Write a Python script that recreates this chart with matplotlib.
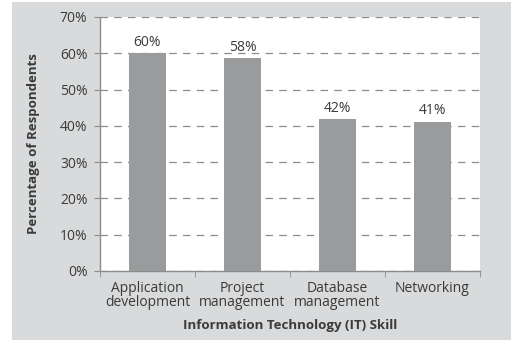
import matplotlib.pyplot as plt
from matplotlib.patches import Rectangle

skills = ['Application\ndevelopment', 'Project\nmanagement', 'Database\nmanagement', 'Networking']
percent = [60, 58.6, 41.8, 41.2]
bar_labels = ['60%', '58%', '42%', '41%']
yticks = [0, 10, 20, 30, 40, 50, 60, 70]

plt.rcParams['font.family'] = ['Open Sans', 'DejaVu Sans']
txt = '#3a3a3a'

fig = plt.figure(figsize=(5.18, 3.44), dpi=100, facecolor='white')
W, H = 518, 344

# grey panel behind the chart
fig.patches.append(Rectangle((12 / W, 4 / H), 499 / W, 338 / H, transform=fig.transFigure,
                             facecolor='#d9dadb', edgecolor='none', zorder=-10))

ax = fig.add_axes([100 / W, 1 - 271 / H, 380 / W, 254 / H])
ax.set_zorder(5)
ax.set_facecolor('white')

x = range(len(skills))
ax.bar(x, percent, width=0.39, color='#9a9b9c', zorder=3)
for i, lab in enumerate(bar_labels):
    ax.text(i, percent[i] + 1.0, lab, ha='center', va='bottom', fontsize=10, color=txt, zorder=4)

ax.set_xlim(-0.5, len(skills) - 0.5)
ax.set_ylim(0, 70)
ax.set_yticks(yticks)
ax.set_yticklabels([f'{v}%' for v in yticks], fontsize=10, color=txt)
ax.yaxis.grid(True, linestyle=(0, (6, 5)), color='#8c8c8c', linewidth=0.9, zorder=1)
ax.tick_params(axis='y', length=4, color='#8c8c8c', pad=5)

ax.set_xticks(x)
ax.set_xticklabels(skills, fontsize=10, color=txt, linespacing=0.95)
ax.tick_params(axis='x', length=0, pad=7)
# boundary ticks on the category axis
ax.set_xticks([-0.5, 0.5, 1.5, 2.5, 3.5], minor=True)
ax.tick_params(axis='x', which='minor', length=4, color='#8c8c8c')

for s in ['top', 'right']:
    ax.spines[s].set_visible(False)
for s in ['left', 'bottom']:
    ax.spines[s].set_color('#8c8c8c')
    ax.spines[s].set_linewidth(1.0)

ax.set_xlabel('Information Technology (IT) Skill', fontsize=9.5, fontweight='bold', color=txt, labelpad=6)
ax.set_ylabel('Percentage of Respondents', fontsize=9.5, fontweight='bold', color=txt, labelpad=14)

fig.savefig('out.png', dpi=100, facecolor=fig.get_facecolor())
